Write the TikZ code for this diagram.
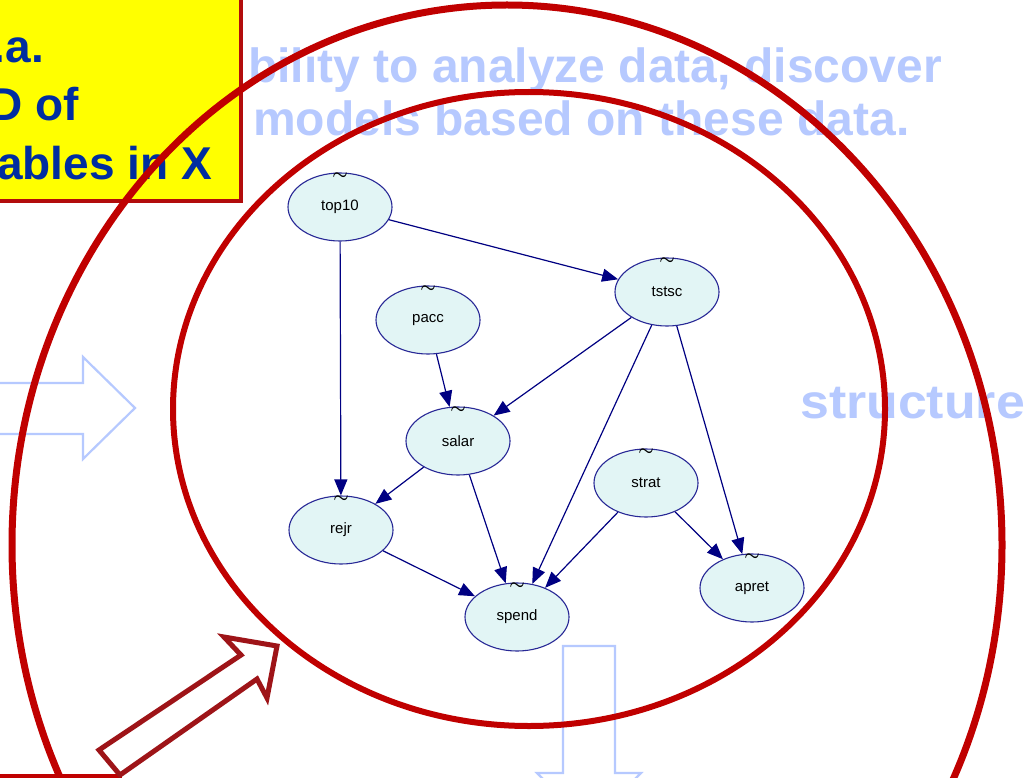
\documentclass[tikz,border=0pt]{standalone}
\usepackage{fontspec}
\setmainfont{Liberation Sans}
\usetikzlibrary{arrows.meta,shapes.geometric}
\definecolor{ringred}{RGB}{192,0,0}
\definecolor{boxred}{RGB}{178,12,12}
\definecolor{arrowred}{RGB}{158,20,24}
\definecolor{paleblue}{RGB}{182,201,255}
\definecolor{deepblue}{RGB}{0,45,160}
\definecolor{nodefill}{RGB}{226,245,245}
\definecolor{nodeline}{RGB}{40,40,150}
\definecolor{edgeblue}{RGB}{0,0,130}
\definecolor{hlyellow}{RGB}{255,255,0}
\begin{document}
\begin{tikzpicture}[x=1pt,y=-1pt,
  var/.style={ellipse, draw=nodeline, fill=nodefill, line width=1.1pt,
    minimum width=104pt, minimum height=68pt, inner sep=0pt,
    font=\fontsize{15}{17}\selectfont,
    label={[anchor=center, yshift=-4pt, inner sep=0pt,
      font=\boldmath\fontsize{17}{17}\selectfont]north:$\sim$}},
  dep/.style={draw=edgeblue, line width=1.2pt,
    -{Triangle[length=16pt,width=13pt]}},
  paletext/.style={text=paleblue, inner sep=0pt, anchor=base west,
    font=\bfseries\fontsize{48}{58}\selectfont},
  boxtext/.style={text=deepblue, inner sep=0pt, anchor=base east,
    font=\bfseries\fontsize{46}{56}\selectfont},
  blockarrow/.style={draw=paleblue, line width=2.2pt, line join=miter},
  ring/.style={draw=ringred}
]
\useasboundingbox (0,0) rectangle (1027,778);
\clip (0,0) rectangle (1027,778);
\fill[white] (0,0) rectangle (1027,778);

% faded heading and side word
\node[paletext] (line1) at (248,83) {bility to analyze data, discover};
\node[paletext] (line2) at (253,136) {models based on these data.};
\node[paletext, xscale=1.08] (struct) at (800,418) {structure};

% faded block arrows
\draw[blockarrow] (-10,383) -- (83,383) -- (83,357) -- (135,408) -- (83,459)
  -- (83,434) -- (-10,434);
\draw[blockarrow] (563,773) -- (563,646) -- (615,646) -- (615,773) -- (641,773)
  -- (589,825) -- (537,773) -- cycle;

% yellow call-out box
\draw[boxred, fill=hlyellow, line width=4pt] (-10,-10) rectangle (241,201);
\node[boxtext] (t1) at (44,63) {.a.};
\node[boxtext] (t2) at (79,121) {D of};
\node[boxtext] (t3) at (212,179) {ables in X};

% network
\node[var] (top10) at (340,207) {top10};
\node[var] (pacc)  at (428,320) {pacc};
\node[var] (tstsc) at (667,292) {tstsc};
\node[var] (salar) at (458,441) {salar};
\node[var] (rejr)  at (341,530) {rejr};
\node[var] (spend) at (517,617) {spend};
\node[var] (strat) at (646,483) {strat};
\node[var] (apret) at (752,588) {apret};

\draw[dep] (top10) -- (tstsc);
\draw[dep] (top10) -- (rejr);
\draw[dep] (pacc) -- (salar);
\draw[dep] (tstsc) -- (salar);
\draw[dep] (tstsc) -- (spend);
\draw[dep] (tstsc) -- (apret);
\draw[dep] (salar) -- (rejr);
\draw[dep] (salar) -- (spend);
\draw[dep] (rejr) -- (spend);
\draw[dep] (strat) -- (spend);
\draw[dep] (strat) -- (apret);

% red rings
\draw[ring, line width=7pt] (507,545) ellipse [x radius=495, y radius=540];
\draw[ring, line width=6pt] (529,409) ellipse [x radius=356, y radius=317];

% edge of a box below, and the hollow pointer arrow
\draw[ringred, line width=4pt] (-5,776) -- (122,776);
\draw[arrowred, fill=white, line width=5pt, line join=miter]
  (99,750) -- (241,655) -- (224,637) -- (277,646) -- (267,698) -- (257,679)
  -- (120,775) -- cycle;
\end{tikzpicture}
\end{document}
